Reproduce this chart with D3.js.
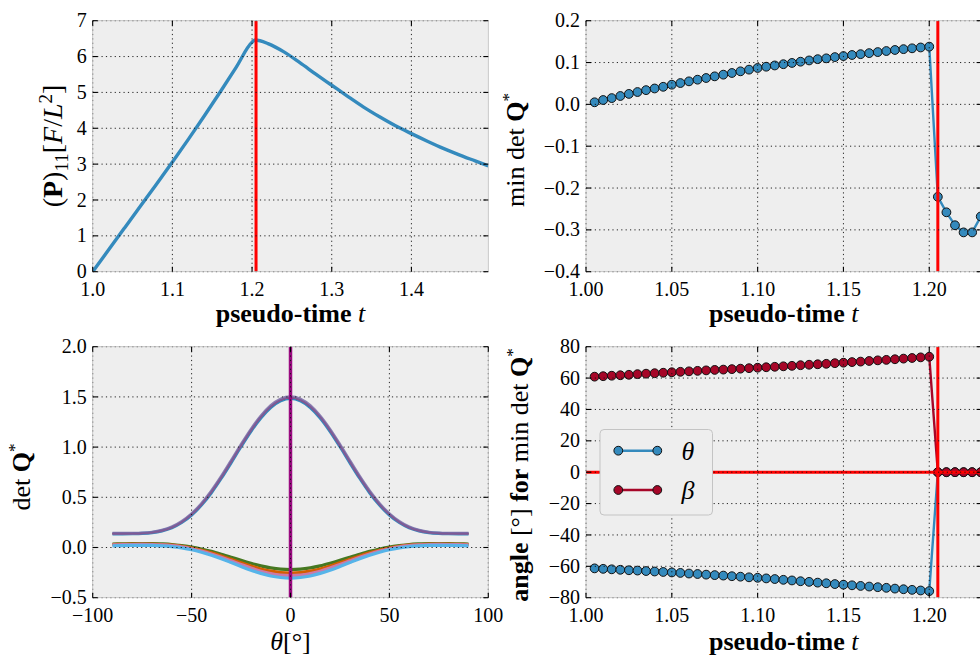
<!DOCTYPE html>
<html><head><meta charset="utf-8">
<script src="https://cdn.jsdelivr.net/npm/d3@7/dist/d3.min.js"></script>
<style>
html,body{margin:0;padding:0;background:#fff;}
svg{display:block;}
text{font-family:'Liberation Serif','Times New Roman',serif;fill:#000;}
</style></head>
<body><svg id="c" width="980" height="658"></svg>
<script>
// ---------------- DATA ----------------
// Panel A: (P)_11 vs pseudo-time
const pTime  = [1.0,1.02,1.04,1.06,1.08,1.1,1.12,1.14,1.16,1.18,1.2,1.204,1.21,1.22,1.24,1.26,1.28,1.3,1.32,1.34,1.36,1.38,1.4,1.42,1.44,1.46,1.48,1.4965];
const pValue = [0,0.61,1.22,1.83,2.44,3.06,3.69,4.34,5.01,5.7,6.4,6.46,6.44,6.36,6.13,5.83,5.51,5.2,4.89,4.59,4.32,4.07,3.85,3.64,3.44,3.26,3.09,2.95];
const pTicksX = [1.0,1.1,1.2,1.3,1.4];
const pTicksY = [0,1,2,3,4,5,6,7];

// Panels B and D: sampled pseudo-times
const stepTimes = [1.005,1.01,1.015,1.02,1.025,1.03,1.035,1.04,1.045,1.05,1.055,1.06,1.065,1.07,1.075,1.08,1.085,1.09,1.095,1.1,
  1.105,1.11,1.115,1.12,1.125,1.13,1.135,1.14,1.145,1.15,1.155,1.16,1.165,1.17,1.175,1.18,1.185,1.19,1.195,1.2,
  1.205,1.21,1.215,1.22,1.225,1.23];
const minDetQ = [0.005,0.0104,0.015,0.020,0.025,0.0295,0.034,0.038,0.042,0.047,0.051,0.055,0.059,0.063,0.067,0.071,0.075,0.079,0.083,0.087,
  0.090,0.093,0.096,0.099,0.102,0.105,0.108,0.110,0.113,0.1155,0.118,0.120,0.1225,0.125,0.1275,0.130,0.132,0.134,0.136,0.138,
  -0.221,-0.258,-0.289,-0.306,-0.306,-0.268];
const angleTheta = [-61.3,-61.6,-61.9,-62.2,-62.5,-62.7,-63.0,-63.3,-63.6,-63.9,-64.2,-64.6,-64.9,-65.3,-65.6,-65.9,-66.3,-66.6,-67.0,-67.3,
  -67.7,-68.1,-68.6,-69.0,-69.5,-69.9,-70.4,-70.8,-71.3,-71.7,-72.1,-72.5,-72.9,-73.3,-73.7,-74.2,-74.6,-75.0,-75.4,-75.8,
  0,0,0,0,0,0];
const angleBeta = [60.9,61.2,61.5,61.8,62.1,62.5,62.8,63.1,63.4,63.7,64.0,64.3,64.6,64.9,65.2,65.4,65.7,66.0,66.3,66.6,
  66.9,67.2,67.5,67.8,68.2,68.5,68.8,69.1,69.5,69.8,70.2,70.5,70.9,71.3,71.6,72.0,72.4,72.8,73.2,73.6,
  0,0,0,0,0,0];
const timeTicks = [1.00,1.05,1.10,1.15,1.20];
const minDetTicks = [-0.4,-0.3,-0.2,-0.1,0.0,0.1,0.2];
const angleTicks = [-80,-60,-40,-20,0,20,40,60,80];
const criticalTime = 1.205;

// Panel C: det Q* vs theta for several pseudo-times
const thetaDeg = [-90,-85,-80,-75,-70,-65,-60,-55,-50,-45,-40,-35,-30,-25,-20,-15,-10,-5,0,5,10,15,20,25,30,35,40,45,50,55,60,65,70,75,80,85,90];
const det119  = [0.136,0.136,0.137,0.140,0.148,0.166,0.197,0.249,0.324,0.423,0.546,0.690,0.846,1.006,1.158,1.291,1.395,1.461,1.484,1.461,1.395,1.291,1.158,1.006,0.846,0.690,0.546,0.423,0.324,0.249,0.197,0.166,0.148,0.140,0.137,0.136,0.136];
const det1195 = [0.138,0.138,0.139,0.142,0.150,0.168,0.200,0.253,0.329,0.429,0.553,0.697,0.854,1.014,1.166,1.299,1.403,1.469,1.492,1.469,1.403,1.299,1.166,1.014,0.854,0.697,0.553,0.429,0.329,0.253,0.200,0.168,0.150,0.142,0.139,0.138,0.138];
const det120  = [0.140,0.140,0.141,0.144,0.152,0.171,0.204,0.258,0.335,0.436,0.561,0.705,0.862,1.022,1.174,1.307,1.411,1.477,1.500,1.477,1.411,1.307,1.174,1.022,0.862,0.705,0.561,0.436,0.335,0.258,0.204,0.171,0.152,0.144,0.141,0.140,0.140];
const det1205 = [0.035,0.036,0.038,0.040,0.040,0.036,0.030,0.019,0.005,-0.015,-0.039,-0.067,-0.097,-0.128,-0.157,-0.183,-0.203,-0.216,-0.220,-0.216,-0.203,-0.183,-0.157,-0.128,-0.097,-0.067,-0.039,-0.015,0.005,0.019,0.030,0.036,0.040,0.040,0.038,0.036,0.035];
const det121  = [0.030,0.032,0.034,0.035,0.034,0.030,0.023,0.012,-0.005,-0.027,-0.053,-0.084,-0.118,-0.152,-0.185,-0.214,-0.236,-0.250,-0.255,-0.250,-0.236,-0.214,-0.185,-0.152,-0.118,-0.084,-0.053,-0.027,-0.005,0.012,0.023,0.030,0.034,0.035,0.034,0.032,0.030];
const det1215 = [0.026,0.028,0.030,0.031,0.030,0.026,0.018,0.006,-0.012,-0.035,-0.064,-0.097,-0.133,-0.170,-0.205,-0.236,-0.260,-0.275,-0.280,-0.275,-0.260,-0.236,-0.205,-0.170,-0.133,-0.097,-0.064,-0.035,-0.012,0.006,0.018,0.026,0.030,0.031,0.030,0.028,0.026];
const det122  = [0.017,0.019,0.021,0.022,0.021,0.017,0.009,-0.004,-0.022,-0.047,-0.077,-0.112,-0.150,-0.189,-0.226,-0.258,-0.284,-0.299,-0.305,-0.299,-0.284,-0.258,-0.226,-0.189,-0.150,-0.112,-0.077,-0.047,-0.022,-0.004,0.009,0.017,0.021,0.022,0.021,0.019,0.017];
const detSeries = [det119, det1195, det120, det1205, det121, det1215, det122];
const detColors = ['#348ABD','#A60628','#7A68A6','#467821','#D55E00','#CC79A7','#56B4E9'];
const thetaTicks = [-100,-50,0,50,100];
const detTicks = [-0.5,0.0,0.5,1.0,1.5,2.0];

const legendLabels = ['θ','β'];
const seriesColors = ['#348ABD','#A60628'];

// ---------------- DRAWING ----------------
const svg = d3.select('#c');
const BG = '#eeeeee';
const minus = s => s.replace(/-/g,'\u2212');
const L1=92.7, R1=488.3, L2=586, R2=981.6, T1=20.7, B1=271.7, T2=346.7, B2=597.7;

let clipId = 0;
function makePanel(cfg){
  const g = svg.append('g');
  const x = d3.scaleLinear().domain(cfg.xd).range([cfg.l, cfg.r]);
  const y = d3.scaleLinear().domain(cfg.yd).range([cfg.b, cfg.t]);
  g.append('rect').attr('x',cfg.l).attr('y',cfg.t).attr('width',cfg.r-cfg.l).attr('height',cfg.b-cfg.t).attr('fill',BG);
  const id = 'clip'+(clipId++);
  g.append('clipPath').attr('id',id).append('rect').attr('x',cfg.l).attr('y',cfg.t).attr('width',cfg.r-cfg.l).attr('height',cfg.b-cfg.t);
  const data = g.append('g').attr('clip-path',`url(#${id})`);
  return {g, x, y, data, cfg};
}
function finishPanel(p){
  const {g,x,y,cfg} = p;
  const xt = cfg.xt.filter(v=>v>=cfg.xd[0]-1e-9 && v<=cfg.xd[1]+1e-9);
  const yt = cfg.yt;
  const grid = g.append('g').attr('stroke','#111').attr('stroke-width',1).attr('stroke-dasharray','1.2,3.2').attr('opacity',0.9);
  xt.forEach(v=>grid.append('line').attr('x1',x(v)).attr('x2',x(v)).attr('y1',cfg.t).attr('y2',cfg.b));
  yt.forEach(v=>grid.append('line').attr('y1',y(v)).attr('y2',y(v)).attr('x1',cfg.l).attr('x2',cfg.r));
  // spines
  g.append('rect').attr('x',cfg.l).attr('y',cfg.t).attr('width',cfg.r-cfg.l).attr('height',cfg.b-cfg.t)
    .attr('fill','none').attr('stroke','#bcbcbc').attr('stroke-width',0.8);
  // ticks (inward, all sides)
  const tk = g.append('g').attr('stroke','#000').attr('stroke-width',1.1);
  const tl = 5;
  xt.forEach(v=>{
    tk.append('line').attr('x1',x(v)).attr('x2',x(v)).attr('y1',cfg.b).attr('y2',cfg.b-tl);
    tk.append('line').attr('x1',x(v)).attr('x2',x(v)).attr('y1',cfg.t).attr('y2',cfg.t+tl);
  });
  yt.forEach(v=>{
    tk.append('line').attr('y1',y(v)).attr('y2',y(v)).attr('x1',cfg.l).attr('x2',cfg.l+tl);
    tk.append('line').attr('y1',y(v)).attr('y2',y(v)).attr('x1',cfg.r).attr('x2',cfg.r-tl);
  });
  // tick labels
  const xl = g.append('g').attr('font-size','20px').attr('text-anchor','middle');
  xt.forEach(v=>xl.append('text').attr('x',x(v)).attr('y',cfg.b+24).text(minus(cfg.xf(v))));
  const yl = g.append('g').attr('font-size','20px').attr('text-anchor','end');
  yt.forEach(v=>yl.append('text').attr('x',cfg.l-6).attr('y',y(v)).attr('dy','0.33em').text(minus(cfg.yf(v))));
}
function xLabelTime(p, base){
  const t = svg.append('text').attr('x',(p.cfg.l+p.cfg.r)/2).attr('y',base).attr('text-anchor','middle').attr('font-size','26px');
  t.append('tspan').attr('font-weight','bold').text('pseudo-time ');
  t.append('tspan').attr('font-style','italic').text('t');
}
function yLabel(cx, cy, build){
  const t = svg.append('text').attr('transform',`translate(${cx},${cy}) rotate(-90)`).attr('text-anchor','middle').attr('font-size','26px');
  build(t);
}

// ---- Panel A ----
const A = makePanel({l:L1,r:R1,t:T1,b:B1,xd:[1.0,1.4965],yd:[0,7],xt:pTicksX,yt:pTicksY,xf:d3.format('.1f'),yf:d3.format('d')});
A.data.append('path').datum(pTime.map((t,i)=>[t,pValue[i]]))
  .attr('d',d3.line().x(d=>A.x(d[0])).y(d=>A.y(d[1])).curve(d3.curveMonotoneX))
  .attr('fill','none').attr('stroke','#348ABD').attr('stroke-width',3.4);
A.data.append('line').attr('x1',A.x(criticalTime)).attr('x2',A.x(criticalTime)).attr('y1',T1).attr('y2',B1).attr('stroke','#ff0000').attr('stroke-width',3);
finishPanel(A);
xLabelTime(A, 322);
yLabel(62, 146, t=>{
  t.attr('font-size','28px');
  t.append('tspan').text('(');
  t.append('tspan').attr('font-weight','bold').text('P');
  t.append('tspan').text(')');
  t.append('tspan').attr('font-size','19px').attr('dy','0.3em').text('11');
  t.append('tspan').attr('dy','-0.2em').text('[');
  t.append('tspan').attr('font-style','italic').text('F');
  t.append('tspan').text('/');
  t.append('tspan').attr('font-style','italic').text('L');
  t.append('tspan').attr('font-size','19px').attr('dy','-0.55em').text('2');
  t.append('tspan').attr('dy','0.38em').text(']');
});

// ---- Panel B ----
const B = makePanel({l:L2,r:R2,t:T1,b:B1,xd:[1.0,1.2305],yd:[-0.4,0.2],xt:timeTicks,yt:minDetTicks,xf:d3.format('.2f'),yf:d3.format('.1f')});
const ptsB = stepTimes.map((t,i)=>[t,minDetQ[i]]);
B.data.append('path').datum(ptsB).attr('d',d3.line().x(d=>B.x(d[0])).y(d=>B.y(d[1])))
  .attr('fill','none').attr('stroke','#348ABD').attr('stroke-width',2.4);
B.data.selectAll('circle').data(ptsB).join('circle').attr('cx',d=>B.x(d[0])).attr('cy',d=>B.y(d[1])).attr('r',4.4)
  .attr('fill','#348ABD').attr('stroke','#111').attr('stroke-width',1);
B.data.append('line').attr('x1',B.x(criticalTime)).attr('x2',B.x(criticalTime)).attr('y1',T1).attr('y2',B1).attr('stroke','#ff0000').attr('stroke-width',3);
finishPanel(B);
xLabelTime(B, 322);
yLabel(524, 150, t=>{
  t.append('tspan').text('min det ');
  t.append('tspan').attr('font-weight','bold').text('Q');
  t.append('tspan').attr('font-size','17px').attr('dy','-0.6em').text('*');
});

// ---- Panel C ----
const C = makePanel({l:L1,r:R1,t:T2,b:B2,xd:[-100,100],yd:[-0.5,2.0],xt:thetaTicks,yt:detTicks,xf:d3.format('d'),yf:d3.format('.1f')});
const lineC = d3.line().x((d,i)=>C.x(thetaDeg[i])).y(d=>C.y(d)).curve(d3.curveMonotoneX);
detSeries.forEach((s,k)=>{
  C.data.append('path').datum(s).attr('d',lineC).attr('fill','none').attr('stroke',detColors[k])
    .attr('stroke-width', k===1 ? 1.6 : 3.2).attr('opacity', k===2 ? 0.85 : 1);
});
C.data.append('line').attr('x1',C.x(0)).attr('x2',C.x(0)).attr('y1',T2).attr('y2',B2).attr('stroke','#9a0a80').attr('stroke-width',3.5);
finishPanel(C);
{
  const t = svg.append('text').attr('x',(L1+R1)/2).attr('y',650).attr('text-anchor','middle').attr('font-size','26px');
  t.append('tspan').attr('font-style','italic').text('θ');
  t.append('tspan').text('[°]');
}
yLabel(30, 477, t=>{
  t.append('tspan').text('det ');
  t.append('tspan').attr('font-weight','bold').text('Q');
  t.append('tspan').attr('font-size','17px').attr('dy','-0.6em').text('*');
});

// ---- Panel D ----
const D = makePanel({l:L2,r:R2,t:T2,b:B2,xd:[1.0,1.2305],yd:[-80,80],xt:timeTicks,yt:angleTicks,xf:d3.format('.2f'),yf:d3.format('d')});
[angleTheta, angleBeta].forEach((arr,k)=>{
  const pts = stepTimes.map((t,i)=>[t,arr[i]]);
  D.data.append('path').datum(pts).attr('d',d3.line().x(d=>D.x(d[0])).y(d=>D.y(d[1])))
    .attr('fill','none').attr('stroke',seriesColors[k]).attr('stroke-width',2.4);
  D.data.append('g').selectAll('circle').data(pts).join('circle').attr('cx',d=>D.x(d[0])).attr('cy',d=>D.y(d[1])).attr('r',4.4)
    .attr('fill',seriesColors[k]).attr('stroke','#111').attr('stroke-width',1);
});
D.data.append('line').attr('x1',L2).attr('x2',R2).attr('y1',D.y(0)).attr('y2',D.y(0)).attr('stroke','#ff0000').attr('stroke-width',3);
D.data.append('line').attr('x1',D.x(criticalTime)).attr('x2',D.x(criticalTime)).attr('y1',T2).attr('y2',B2).attr('stroke','#ff0000').attr('stroke-width',3);
finishPanel(D);
xLabelTime(D, 650);
yLabel(528, 475, t=>{
  t.append('tspan').attr('font-weight','bold').text('angle');
  t.append('tspan').text(' [°] ');
  t.append('tspan').attr('font-weight','bold').text('for');
  t.append('tspan').text(' min det ');
  t.append('tspan').attr('font-weight','bold').text('Q');
  t.append('tspan').attr('font-size','17px').attr('dy','-0.6em').text('*');
});
// legend
{
  const lg = svg.append('g');
  lg.append('rect').attr('x',600).attr('y',429.5).attr('width',112.5).attr('height',85.5).attr('rx',4)
    .attr('fill','#eeeeee').attr('stroke','#c4c4c4').attr('stroke-width',1);
  legendLabels.forEach((lab,k)=>{
    const yy = 450.7 + k*39.3;
    lg.append('line').attr('x1',618.3).attr('x2',657.3).attr('y1',yy).attr('y2',yy).attr('stroke',seriesColors[k]).attr('stroke-width',2.4);
    [618.3,657.3].forEach(xx=>lg.append('circle').attr('cx',xx).attr('cy',yy).attr('r',4.4).attr('fill',seriesColors[k]).attr('stroke','#111').attr('stroke-width',1));
    lg.append('text').attr('x',688).attr('y',yy).attr('dy','0.35em').attr('text-anchor','middle').attr('font-size','26px').attr('font-style','italic').text(lab);
  });
}
</script>
</body></html>
